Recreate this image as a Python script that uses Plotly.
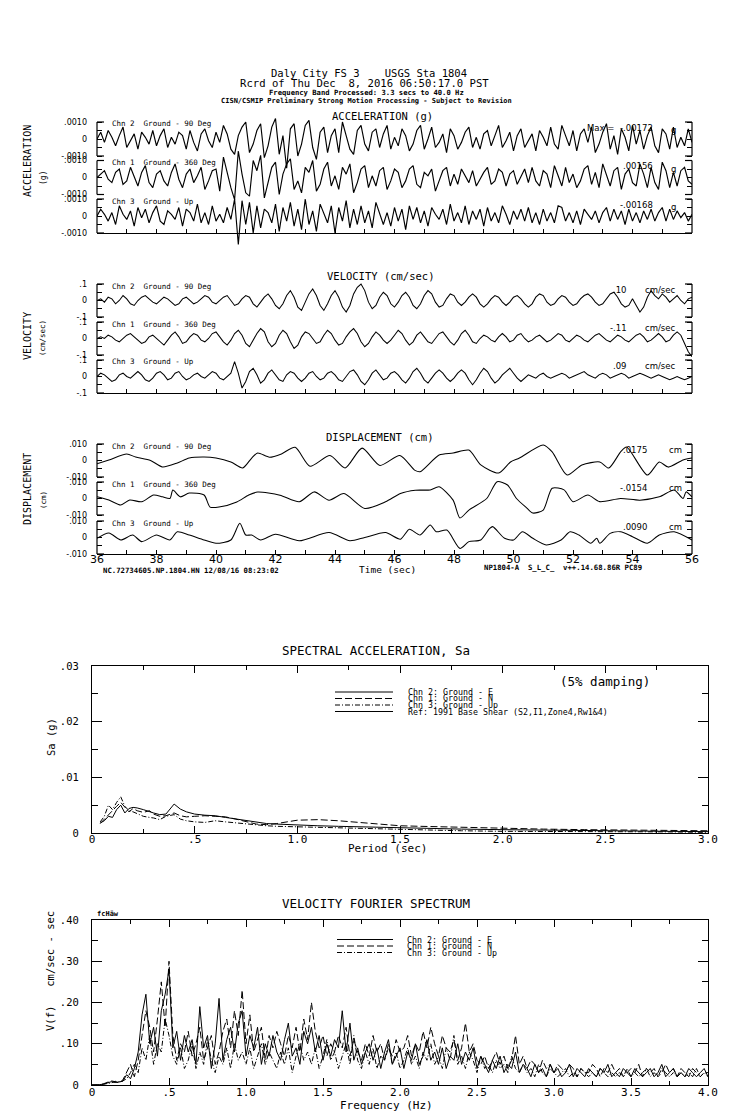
import plotly.graph_objects as go

W, H = 739, 1115
OFF = 8  # page body margin of the html page, compensated so screen pixels match


def px(x):
    return (x - OFF) / W


def py(y):
    return 1 - (y - OFF) / H


# ---------------- data ----------------
T0, DT, NT = 36.0, 0.125, 161
time_s = [T0 + DT * i for i in range(NT)]

# acceleration (units of 1e-4 g)
acc_chn2 = [0, 4, -2, 5, 1, -4, 2, 7, -5, -1, 3, -6, 4, 1, -3, 5, -4,
            2, 6, -5, 1, -3, 4, 2, -6, 5, -2, -7, 3, 6, -1, -5, 4,
            -2, 8, 3, -6, -9, 2, 7, 10, -8, -3, 5, 9, -11, -4, 7, 12,
            -9, 2, -17.2, 6, 9, -10, -3, 8, 11, -5, -12, 4, 7, -8, 2, 6,
            -8, 10, 2, -6, -9, 5, 8, -3, -7, 4, 6, -5, 3, 8, -6, 1,
            -4, 6, 2, -7, -3, 5, 8, -6, 0, 7, -5, -2, 3, -8, 6, 2,
            -6, -2, 4, 7, -5, 1, -6, 3, 5, -4, 2, 8, -5, -1, 4, -7,
            2, 6, -5, -1, 3, -7, 5, 1, -4, 7, -3, -6, 8, 2, -4, 5,
            -7, 3, 6, -2, 7, -8, -3, 4, 9, -6, 2, -9, 6, 1, -7, 8,
            -3, 5, -6, 2, 7, -4, -8, 6, 3, -6, 7, -5, 1, -4, 6, -2]
acc_chn1 = [0, 2, 4, -1, -3, 3, 5, -4, -2, 6, 1, -5, 3, 7, -3, -6, 2,
            4, -2, -5, 3, 8, -1, -6, 2, 5, -3, 1, 6, -7, -2, 4, 5,
            -8, 12, 3, -6, -13, 15.6, 2, -9, -11, 10, 4, 13, -12, -3, 6, 9,
            -10, 2, 8, 11, -7, -2, -9, 6, 3, 10, -8, -4, 5, 9, -5, 1,
            -7, 6, 2, 8, -9, -3, 5, 7, -6, 1, -5, 4, 6, -7, -2, 5,
            3, -6, -2, 5, 7, -4, -6, 3, 1, 5, -8, -2, 4, 6, -5, 2,
            -4, 5, 1, -3, 4, -5, -1, 3, 6, -4, -2, 5, 3, -5, 2, 4,
            -4, 1, 5, -3, 6, -2, -5, 4, 2, -6, 7, 1, -5, 6, -3, 2,
            -6, -2, 5, 7, -4, 3, -6, 8, 1, -5, 4, 6, -7, 2, 5, -3,
            -5, 8, 2, -6, 6, -3, -7, 9, 4, -6, 3, -5, 4, 6, -2, -4]
acc_chn3 = [0, 4, 1, -3, 2, -5, 6, 1, -2, 3, -6, 5, -1, 4, -4, 2, 6,
            -3, -5, 3, 1, -2, 5, -6, 4, 2, -3, 7, -4, 2, -5, 6, -3,
            1, -4, 5, -2, 10, -16.8, 9, -5, 8, -10, 6, -7, 4, 2, -4, 7,
            -9, 5, -3, 8, -6, 4, -8, 10, -5, 3, -9, 7, 2, -4, 6, -10,
            5, -3, 9, -7, 4, -5, 6, -4, 3, -7, 8, 1, -5, 2, -6, 5,
            -3, 4, -8, 6, -2, 5, -4, 3, -6, 5, 1, -2, 4, -5, 7, -3,
            2, -4, 6, -5, 3, -2, 4, -6, 5, -3, 2, -4, 6, 1, -5, 3,
            -2, 4, -3, 5, -4, 2, -5, 4, -3, 2, -4, 6, 5, -3, 2, -4,
            3, -5, 4, 1, -2, 3, -4, 2, 5, -3, 4, -2, 3, -5, 4, -3,
            2, -4, 3, -2, 4, -3, 2, 5, -3, 4, -2, 3, -1, 2, -3, 1]

# velocity (units of 0.01 cm/s)
vel_chn2 = [0, 1, -1, 2, 1, -2, 0, 3, 1, -2, -3, 0, 2, 3, 1, -1, -2,
            0, 2, 1, -1, -3, -2, 1, 2, 0, -2, -1, 1, 3, 2, -1, -2,
            0, 2, 3, 0, -3, -2, 1, 3, 2, -2, -4, -1, 2, 4, 1, -3,
            -5, -2, 3, 6, 2, -4, -6, -1, 4, 7, 3, -3, -6, -2, 3, 6,
            2, -4, -7, -3, 4, 8, 10, 6, -1, -5, -3, 2, 5, 3, -2, -4,
            -1, 3, 5, 2, -3, -5, -2, 3, 6, 4, -1, -4, -3, 1, 4, 3,
            -1, -3, -1, 2, 4, 2, -2, -4, -2, 1, 3, 2, -1, -3, -1, 2,
            3, 1, -2, -4, -2, 2, 4, 3, -1, -3, -2, 1, 3, 2, -1, -3,
            -2, 1, 3, 4, 2, -1, -3, -2, 1, 4, 5, 2, -2, -4, -3, 1,
            -3, -7, -4, 2, 6, 3, 1, 4, 2, -1, 1, 3, 0, -2, 1, 2]
vel_chn1 = [0, 1, 0, 2, 1, -1, -2, 0, 2, 3, 1, -1, -3, -2, 1, 2, 0,
            -2, -4, -1, 2, 4, 1, -3, -2, 1, 3, 2, -1, -2, 0, 3, 4,
            1, -2, -4, -1, 3, 5, 2, -3, -5, -1, 3, 6, 4, -2, -5, -3,
            2, 5, 3, -2, -6, -4, 1, 4, 3, 0, -3, -2, 2, 5, 3, -1,
            -4, -3, 1, 4, 6, 3, -2, -5, -3, 1, 4, 2, -1, -3, -1, 2,
            5, 3, -1, -4, -2, 2, 4, 1, -2, -3, 0, 3, 4, 1, -2, -4,
            -1, 3, 5, 2, -2, -3, 0, 2, 1, -1, -2, 1, 3, 1, -2, -1,
            2, 3, 0, -2, -1, 1, 2, 0, -2, -1, 1, 3, 2, -1, -2, 0,
            2, 1, -1, -2, 0, 2, 3, 1, -1, -2, 0, 2, 1, -1, -2, 0,
            2, 3, 1, -2, -1, 1, 3, 1, -2, -1, 2, 4, 2, -3, -8, -11]
vel_chn3 = [0, 2, 1, -1, -3, -2, 1, 2, 0, -1, 1, 3, 1, -2, -3, -1, 2,
            3, 1, -2, -1, 2, 3, 0, -2, -1, 1, 2, 0, -1, 1, 3, 2,
            -1, -2, 0, 2, 9, 2, -7, -3, 3, 5, 1, -4, -2, 2, 4, 1,
            -2, -3, 1, 3, 2, -1, -3, -1, 2, 3, 0, -2, -1, 2, 3, 1,
            -2, -3, 0, 3, 4, 1, -3, -5, -2, 2, 4, 1, -2, -1, 2, 3,
            1, -2, -4, -1, 3, 5, 2, -2, -4, -1, 2, 4, 2, -1, -3, -1,
            2, 4, 2, -2, -5, -2, 2, 5, 3, -1, -4, -2, 1, 3, 5, 2,
            -1, -3, -1, 1, 0, -1, 1, 2, 0, -1, 0, 1, 2, 1, -1, 0,
            1, 2, 3, 1, 0, -1, 1, 2, 1, -1, 0, 1, 2, 1, -1, 0,
            1, 2, 1, 0, -1, 0, 1, 0, -1, -2, -1, 0, -1, -2, -1, 0]

# displacement (units of 0.001 cm), read at turning points
disp_chn2_t = [36.0, 36.4, 37.0, 37.3, 37.8, 38.2, 38.7, 39.1, 39.6, 40.0, 40.5, 40.9, 41.2, 41.4,
               41.8, 42.2, 42.66, 43.16, 43.83, 44.34, 44.91, 45.51, 46.18, 46.69, 46.86, 47.5,
               47.97, 48.5, 48.9, 49.5, 49.9, 50.2, 51.0, 51.3, 51.8, 52.3, 52.9, 53.2, 53.6, 53.8,
               54.5, 54.9, 55.2, 55.7, 56.0]
disp_chn2 = [-2, 0.3, 3.9, 2.1, 0, -3.9, -1.5, 1.5, 2.1, 1.5, -0.9, -4.5, 1.5, 4.5,
             2, 4, 8, -3.5, 3, -4.5, 7.5, -3, 3, -6, -6.8, 3.3,
             4.5, 6.3, -2.7, -7.6, -0.9, 1.5, 9.4, 5.2, -8.8, -2.7, -0.9, -4.6, 5.2, 8.2,
             -8.8, -0.9, -4, 0.3, 1.5]
disp_chn1_t = [36.0, 36.4, 36.8, 37.1, 37.5, 37.9, 38.2, 38.45, 38.55, 38.8, 39.1, 39.6, 39.8, 40.1,
               40.7, 41.1, 41.4, 42.15, 42.8, 43.3, 43.8, 44.3, 45.0, 45.7, 46.2, 46.7, 47.2,
               47.5, 47.97, 48.2, 48.5, 49.1, 49.45, 49.8, 50.1, 50.45, 50.65, 51.0, 51.3, 51.7,
               52.0, 52.5, 52.9, 53.6, 54.25, 54.9, 55.4, 55.7, 55.8, 56.0]
disp_chn1 = [1.1, -0.9, -3.9, -0.9, -2, 2.1, 1, 0, 5.1, 1, 3.3, 2.1, -5.2, -5.2,
             -2.1, 2.1, 3.9, 2, -2, 4, -1, 3, -6, -2, 3, 5, 5.2,
             7.1, -1, -11.8, -7, 0, 10.2, 8.2, 0, -5.8, -8.8, -7, 6.2, 5.2,
             -1.9, 2.1, -1.9, 0, -1, 1, 5.2, 0, 4, 1]
disp_chn3_t = [36.0, 36.4, 36.8, 37.2, 37.5, 38.0, 38.45, 38.7, 39.1, 39.6, 40.0, 40.5, 40.8, 41.0,
               41.2, 41.5, 42.0, 42.8, 43.8, 44.5, 45.0, 45.7, 46.2, 46.5, 46.86, 47.2, 47.4,
               47.76, 48.2, 48.5, 48.9, 49.2, 49.3, 49.7, 50.0, 50.3, 50.65, 51.1, 51.6, 51.9,
               52.2, 52.6, 52.8, 52.9, 53.25, 53.6, 54.0, 54.5, 54.9, 55.4, 56.0]
disp_chn3 = [-0.5, 2.7, -1.5, 1.5, -2.5, 1.5, -1.5, 3.5, 1.5, -1.5, -3.5, -1.5, 8.6, 1.5,
             1.5, -1.5, 2, -2, 3, -2, 0, 3, -1, 5, 1.5, 7.6, 3.5,
             4.5, -6.6, -2.5, -1.5, 5.5, 6.6, -0.5, -1.5, 3.5, -0.5, -4.5, -1.5, 3.5,
             1.5, -3.5, -0.5, -3.5, 2.5, 3.5, 0.5, -3.5, 1.5, 3.5, -1.5]

channel_names = ["Chn 2  Ground - 90 Deg", "Chn 1  Ground - 360 Deg", "Chn 3  Ground - Up"]
acc_peaks = ["-.00172", ".00156", "-.00168"]
vel_peaks = [".10", "-.11", ".09"]
disp_peaks = [".0175", "-.0154", ".0090"]

# spectral acceleration (g), 5% damping
period_s = [0.04, 0.06, 0.08, 0.10, 0.12, 0.14, 0.16, 0.18, 0.20, 0.22, 0.25, 0.28, 0.30, 0.33,
            0.36, 0.40, 0.43, 0.46, 0.50, 0.55, 0.60, 0.65, 0.70, 0.75, 0.80, 0.85, 0.90, 1.0,
            1.1, 1.2, 1.3, 1.4, 1.5, 1.6, 1.8, 2.0, 2.2, 2.4, 2.6, 2.8, 3.0]
sa_chn2 = [0.0018, 0.0022, 0.0030, 0.0028, 0.0042, 0.0050, 0.0036, 0.0044, 0.0046, 0.0045,
           0.0042, 0.0038, 0.0036, 0.0033, 0.0034, 0.0052, 0.0043, 0.0038, 0.0034, 0.0032,
           0.0031, 0.0028, 0.0025, 0.0022, 0.0019, 0.0017, 0.0016, 0.0014, 0.0013, 0.0012,
           0.0011, 0.0010, 0.0009, 0.0008, 0.0007, 0.0006, 0.0005, 0.0004, 0.00035, 0.0003, 0.00025]
sa_chn1 = [0.0017, 0.0025, 0.0033, 0.0040, 0.0048, 0.0055, 0.0046, 0.0038, 0.0044, 0.0040,
           0.0037, 0.0040, 0.0034, 0.0030, 0.0031, 0.0036, 0.0031, 0.0029, 0.0030, 0.0031,
           0.0030, 0.0029, 0.0025, 0.0021, 0.0016, 0.0015, 0.0017, 0.0023, 0.0024, 0.0022,
           0.0019, 0.0015, 0.0013, 0.0012, 0.0010, 0.0008, 0.0007, 0.0006, 0.0005, 0.0004, 0.0004]
sa_chn3 = [0.0020, 0.0030, 0.0050, 0.0042, 0.0055, 0.0065, 0.0048, 0.0040, 0.0038, 0.0035,
           0.0030, 0.0028, 0.0027, 0.0024, 0.0030, 0.0033, 0.0025, 0.0022, 0.0020, 0.0019,
           0.0022, 0.0020, 0.0018, 0.0016, 0.0015, 0.0013, 0.0012, 0.0011, 0.0010, 0.0009,
           0.0008, 0.0007, 0.0006, 0.0005, 0.0004, 0.0003, 0.0003, 0.0002, 0.0002, 0.0002, 0.0001]

# velocity Fourier spectrum (units of 0.01 cm/sec-sec), 0.025 Hz steps
freq_hz = [0.025 * i for i in range(161)]
fs_chn2 = [0, 0, 0.1, 0.2, 0.5, 0.8, 0.6, 0.7, 0.9,
           2.5, 1.5, 4, 8, 17, 22, 10, 14,
           7, 18, 22, 28, 9, 13, 6, 12,
           8, 11, 5, 19, 9, 12, 4, 10,
           21, 6, 11, 14, 8, 15, 18, 7,
           12, 9, 14, 5, 10, 7, 12, 8,
           6, 11, 15, 7, 9, 5, 13, 10,
           14, 8, 12, 6, 10, 7, 11, 9,
           18, 8, 15, 6, 9, 5, 8, 10,
           6, 9, 4, 8, 11, 5, 7, 9,
           4, 8, 6, 10, 5, 7, 11, 6,
           8, 5, 9, 4, 7, 6, 10, 5,
           8, 6, 9, 4, 7, 5, 3, 6,
           4, 7, 3, 5, 4, 8, 3, 5,
           4, 2, 5, 3, 4, 2, 5, 3,
           4, 2, 3, 5, 2, 4, 3, 2,
           4, 3, 2, 4, 3, 5, 2, 3,
           2, 4, 3, 2, 4, 3, 2, 3,
           4, 2, 3, 5, 2, 3, 4, 2,
           3, 2, 4, 3, 2, 3, 4, 2]
fs_chn1 = [0, 0, 0, 0.3, 0.6, 1.0, 0.8, 0.5, 1.2,
           3, 5, 2, 6, 12, 18, 14, 8,
           16, 25, 14, 30, 12, 6, 10, 8,
           13, 7, 10, 14, 6, 9, 12, 5,
           8, 13, 16, 9, 18, 12, 23, 10,
           17, 8, 11, 14, 6, 12, 9, 13,
           10, 7, 12, 9, 14, 8, 16, 11,
           20, 13, 9, 12, 7, 10, 8, 12,
           9, 14, 7, 11, 8, 6, 10, 7,
           12, 8, 10, 6, 9, 7, 11, 8,
           9, 12, 7, 10, 8, 13, 9, 14,
           10, 7, 12, 9, 8, 11, 6, 9,
           15, 8, 10, 6, 5, 7, 4, 6,
           8, 5, 7, 4, 6, 12, 5, 7,
           4, 6, 5, 3, 6, 4, 5, 3,
           5, 4, 3, 5, 4, 2, 4, 3,
           3, 5, 4, 2, 4, 3, 5, 3,
           4, 2, 3, 4, 3, 5, 2, 4,
           3, 4, 2, 3, 5, 3, 4, 2,
           4, 3, 2, 4, 3, 2, 3, 3]
fs_chn3 = [0, 0, 0, 0.2, 0.4, 0.5, 0.9, 0.7, 1,
           1.5, 3, 5, 3, 9, 6, 12, 5,
           10, 8, 16, 12, 7, 5, 9, 4,
           6, 10, 4, 8, 5, 11, 6, 3,
           7, 5, 9, 4, 10, 6, 8, 5,
           9, 4, 7, 10, 5, 8, 6, 4,
           8, 5, 9, 3, 7, 10, 6, 8,
           5, 9, 4, 7, 11, 6, 8, 4,
           7, 10, 5, 12, 6, 4, 8, 5,
           9, 4, 7, 6, 10, 5, 8, 4,
           6, 9, 5, 7, 4, 8, 6, 10,
           5, 7, 4, 9, 6, 12, 5, 7,
           4, 8, 6, 3, 7, 4, 5, 3,
           6, 4, 5, 3, 7, 4, 3, 5,
           3, 4, 2, 5, 3, 2, 4, 3,
           2, 3, 4, 2, 3, 2, 4, 3,
           2, 3, 2, 4, 3, 2, 3, 2,
           3, 2, 4, 2, 3, 2, 3, 4,
           2, 3, 2, 4, 3, 2, 3, 2,
           3, 2, 3, 2, 4, 2, 3, 2]

legend_sa = ["Chn 2: Ground - E", "Chn 1: Ground - N", "Chn 3: Ground - Up",
             "Ref: 1991 Base Shear (S2,I1,Zone4,Rw1&4)"]
legend_fs = ["Chn 2: Ground - E", "Chn 1: Ground - N", "Chn 3: Ground - Up"]

# ---------------- figure ----------------
MONO = "DejaVu Sans Mono"
SANS = "DejaVu Sans"
DASH = "7px,3px"
DASHDOT = "5px,2px,1px,2px"
chan_dash = ["solid", DASH, DASHDOT]

fig = go.Figure()
layout = {}
shapes = []
annotations = []


def ann(text, x, y, size, xanchor="center", family=MONO, angle=0):
    annotations.append(dict(text=text, x=px(x), y=py(y), xref="paper", yref="paper",
                            xanchor=xanchor, yanchor="middle", showarrow=False,
                            textangle=angle, font=dict(family=family, size=size, color="black")))


def hline(x0, x1, y, dash="solid", w=1):
    shapes.append(dict(type="line", xref="paper", yref="paper", x0=px(x0), x1=px(x1),
                       y0=py(y), y1=py(y), line=dict(color="black", width=w, dash=dash)))


def vline(x, y0, y1, w=1.2):
    shapes.append(dict(type="line", xref="paper", yref="paper", x0=px(x), x1=px(x),
                       y0=py(y0), y1=py(y1), line=dict(color="black", width=w)))


PAD = 46
XL, XR = 97, 692
panels = [
    dict(centers=[139, 177.5, 216], h=17, s=0.001, unit=1e-4, width=1.15,
         labels=["-.0010", "", "0", "", ".0010"],
         data=[(time_s, acc_chn2), (time_s, acc_chn1), (time_s, acc_chn3)], shape="linear"),
    dict(centers=[300.5, 338.5, 376.5], h=16.5, s=0.1, unit=0.01, width=1.05,
         labels=["-.1", "", "0", "", ".1"],
         data=[(time_s, vel_chn2), (time_s, vel_chn1), (time_s, vel_chn3)], shape="linear"),
    dict(centers=[460.5, 498.5, 537.5], h=16.5, s=0.010, unit=0.001, width=1.05,
         labels=["-.010", "", "0", "", ".010"],
         data=[(disp_chn2_t, disp_chn2), (disp_chn1_t, disp_chn1), (disp_chn3_t, disp_chn3)],
         shape="spline"),
]

time_ticks = list(range(36, 57))
yi = 1
for pi, p in enumerate(panels):
    xname = "x" if pi == 0 else f"x{pi + 1}"
    xkey = "xaxis" if pi == 0 else f"xaxis{pi + 1}"
    bottom = p["centers"][-1] + p["h"]
    layout[xkey] = dict(
        domain=[px(XL), px(XR)], range=[36, 56], anchor="free", position=py(bottom),
        showline=True, linecolor="black", linewidth=1.2, ticks="inside", ticklen=4,
        tickcolor="black", tickvals=time_ticks,
        ticktext=[str(v) if (pi == 2 and v % 2 == 0) else "" for v in time_ticks],
        showgrid=False, zeroline=False, ticklabelstandoff=-5,
        tickfont=dict(family=SANS, size=11, color="black"))
    for k, c in enumerate(p["centers"]):
        yname = "y" if yi == 1 else f"y{yi}"
        ykey = "yaxis" if yi == 1 else f"yaxis{yi}"
        s = p["s"]
        R = PAD / p["h"] * s
        layout[ykey] = dict(
            domain=[py(c + PAD), py(c - PAD)], range=[-R, R], anchor=xname,
            tickvals=[-s, -s / 2, 0, s / 2, s], ticktext=p["labels"], ticks="inside",
            ticklen=5, tickcolor="black", mirror="ticks", showline=False, showgrid=False,
            zeroline=False, ticklabelstandoff=9,
            tickfont=dict(family=SANS, size=8, color="black"))
        xs, ys = p["data"][k]
        fig.add_trace(go.Scatter(
            x=xs, y=[v * p["unit"] for v in ys], xaxis=xname, yaxis=yname, mode="lines",
            line=dict(color="black", width=p["width"], shape=p["shape"], smoothing=0.7),
            showlegend=False, hoverinfo="skip"))
        # bracket
        vline(XL, c - p["h"], c + p["h"])
        vline(XR, c - p["h"], c + p["h"])
        for yy in (c - p["h"], c + p["h"]):
            hline(XL, XL + 7, yy, w=1.2)
            hline(XR - 7, XR, yy, w=1.2)
        ann(channel_names[k], 110, c - p["h"] + 2, 7.5, xanchor="left")
        yi += 1

# right-side peak annotations
for k, c in enumerate(panels[0]["centers"]):
    ann(acc_peaks[k], 655, c - 11, 8.5, xanchor="right", family=SANS)
    ann("g", 673, c - 9, 8.5, family=SANS)
ann("Max =", 585, 128, 8.5, xanchor="left", family=SANS)
for k, c in enumerate(panels[1]["centers"]):
    ann(vel_peaks[k], 629, c - 10.5, 8.5, xanchor="right", family=SANS)
    ann("cm/sec", 643, c - 10.5, 8.5, xanchor="left", family=SANS)
for k, c in enumerate(panels[2]["centers"]):
    ann(disp_peaks[k], 649, c - 10.5, 8.5, xanchor="right", family=SANS)
    ann("cm", 667, c - 10.5, 8.5, xanchor="left", family=SANS)

# header / titles
ann("Daly City FS 3    USGS Sta 1804", 369, 73, 10.5)
ann("Rcrd of Thu Dec  8, 2016 06:50:17.0 PST", 364, 83, 10.6)
ann("<b>Frequency Band Processed: 3.3 secs to 40.0 Hz</b>", 366, 92, 7.2)
ann("<b>CISN/CSMIP Preliminary Strong Motion Processing - Subject to Revision</b>", 366, 100.5, 7.0)
ann("ACCELERATION (g)", 382, 116, 10.5)
ann("VELOCITY (cm/sec)", 380, 276, 10.5)
ann("DISPLACEMENT (cm)", 379, 437, 10.5)
ann("ACCELERATION", 27, 161, 10, angle=-90)
ann("(g)", 43, 178, 8, angle=-90)
ann("VELOCITY", 27, 336, 10, angle=-90)
ann("(cm/sec)", 43, 338, 7.5, angle=-90)
ann("DISPLACEMENT", 27, 489, 10, angle=-90)
ann("(cm)", 43, 500, 7.5, angle=-90)
ann("Time (sec)", 387, 569, 9.5)
ann("<b>NC.72734605.NP.1804.HN 12/08/16 08:23:02</b>", 101, 571, 7.3, xanchor="left")
ann("<b>NP1804-A  S_L_C_  v++.14.68.86R PC89</b>", 482, 567, 7.3, xanchor="left")

# ---------------- spectral acceleration ----------------
SL, SR = 92, 708
for k, (ys, dash) in enumerate(zip([sa_chn2, sa_chn1, sa_chn3], chan_dash)):
    fig.add_trace(go.Scatter(x=period_s, y=ys, xaxis="x4", yaxis="y10", mode="lines",
                             line=dict(color="black", width=1, dash=dash),
                             showlegend=False, hoverinfo="skip"))
layout["xaxis4"] = dict(
    domain=[px(SL), px(SR)], range=[0, 3], anchor="y10",
    tickvals=[0, 0.5, 1, 1.5, 2, 2.5, 3], ticktext=["0", ".5", "1.0", "1.5", "2.0", "2.5", "3.0"],
    ticks="inside", ticklen=7, tickcolor="black", showline=True, linecolor="black", linewidth=1.2,
    mirror="ticks", showgrid=False, zeroline=False, ticklabelstandoff=-4,
    minor=dict(dtick=0.25, tick0=0, ticks="inside", ticklen=4, tickcolor="black", showgrid=False),
    tickfont=dict(family=MONO, size=11, color="black"))
layout["yaxis10"] = dict(
    domain=[py(833), py(666)], range=[0, 0.03], anchor="x4",
    tickvals=[0, 0.01, 0.02, 0.03], ticktext=["0", ".01", ".02", ".03"],
    ticks="inside", ticklen=10, tickcolor="black", showline=True, linecolor="black", linewidth=1.2,
    mirror="ticks", showgrid=False, zeroline=False, ticklabelstandoff=10,
    minor=dict(dtick=0.005, tick0=0, ticks="inside", ticklen=6, tickcolor="black", showgrid=False),
    tickfont=dict(family=MONO, size=10.5, color="black"))
ann("SPECTRAL ACCELERATION, Sa", 376, 650, 12.5)
ann("(5% damping)", 605, 681, 12.5)
ann("Sa (g)", 51, 737, 10.5, angle=-90)
ann("Period (sec)", 388, 848, 11)
leg_y = [692, 698.5, 705, 711.5]
leg_dash = ["solid", DASH, DASHDOT, "solid"]
for k, txt in enumerate(legend_sa):
    hline(335, 393, leg_y[k], dash=leg_dash[k])
    ann(txt, 406, leg_y[k], 8.3, xanchor="left")

# ---------------- Fourier spectrum ----------------
for k, (ys, dash) in enumerate(zip([fs_chn2, fs_chn1, fs_chn3], chan_dash)):
    fig.add_trace(go.Scatter(x=freq_hz, y=[v * 0.01 for v in ys], xaxis="x5", yaxis="y11",
                             mode="lines", line=dict(color="black", width=1, dash=dash),
                             showlegend=False, hoverinfo="skip"))
layout["xaxis5"] = dict(
    domain=[px(SL), px(SR)], range=[0, 4], anchor="y11",
    tickvals=[0, 0.5, 1, 1.5, 2, 2.5, 3, 3.5, 4],
    ticktext=["0", ".5", "1.0", "1.5", "2.0", "2.5", "3.0", "3.5", "4.0"],
    ticks="inside", ticklen=7, tickcolor="black", showline=True, linecolor="black", linewidth=1.2,
    mirror="ticks", showgrid=False, zeroline=False, ticklabelstandoff=-3,
    minor=dict(dtick=0.25, tick0=0, ticks="inside", ticklen=4, tickcolor="black", showgrid=False),
    tickfont=dict(family=MONO, size=11, color="black"))
layout["yaxis11"] = dict(
    domain=[py(1085), py(920)], range=[0, 0.4], anchor="x5",
    tickvals=[0, 0.1, 0.2, 0.3, 0.4], ticktext=["0", ".10", ".20", ".30", ".40"],
    ticks="inside", ticklen=10, tickcolor="black", showline=True, linecolor="black", linewidth=1.2,
    mirror="ticks", showgrid=False, zeroline=False, ticklabelstandoff=10,
    minor=dict(dtick=0.05, tick0=0, ticks="inside", ticklen=6, tickcolor="black", showgrid=False),
    tickfont=dict(family=MONO, size=10.5, color="black"))
ann("VELOCITY FOURIER SPECTRUM", 376, 903, 12.5)
ann("V(f)   cm/sec - sec", 50, 971, 10.5, angle=-90)
ann("Frequency (Hz)", 386, 1105, 11)
ann("<b>fcHäw</b>", 95, 914, 7, xanchor="left")
leg_y2 = [939.5, 946, 952.5]
for k, txt in enumerate(legend_fs):
    hline(337, 393, leg_y2[k], dash=chan_dash[k])
    ann(txt, 405, leg_y2[k], 8.3, xanchor="left")

fig.update_layout(
    width=W, height=H, autosize=False,
    margin=dict(l=0, r=0, t=0, b=0, pad=0, autoexpand=False),
    paper_bgcolor="white", plot_bgcolor="rgba(0,0,0,0)",
    showlegend=False, shapes=shapes, annotations=annotations,
    font=dict(family=MONO, color="black"),
    **layout)

fig.write_html("out.html")
